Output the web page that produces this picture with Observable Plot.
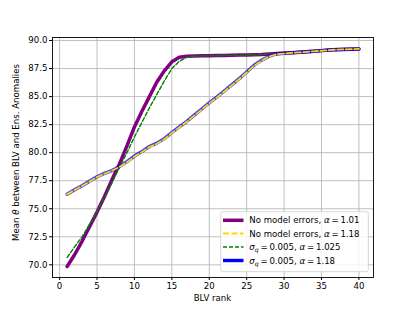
<!DOCTYPE html>
<html>
<head>
<meta charset="utf-8">
<script src="https://cdn.jsdelivr.net/npm/d3@7"></script>
<script src="https://cdn.jsdelivr.net/npm/@observablehq/plot@0.6"></script>
<style>
  html, body { margin: 0; padding: 0; background: #fff; }
  svg { font-family: "DejaVu Sans", sans-serif; }
</style>
</head>
<body>
<div id="chart"></div>
<script>
const ranks = [1,2,3,4,5,6,7,8,9,10,11,12,13,14,15,16,17,18,19,20,21,22,23,24,25,26,27,28,29,30,31,32,33,34,35,36,37,38,39,40];

const noErr101 = [69.85,70.9,72.1,73.4,74.7,76.1,77.6,79.0,80.6,82.3,83.7,85.0,86.3,87.3,88.1,88.5,88.6,88.62,88.64,88.65,88.66,88.67,88.68,88.7,88.71,88.73,88.75,88.8,88.85,88.88,88.92,88.96,89.0,89.05,89.1,89.15,89.18,89.21,89.23,89.25];

const noErr118 = [76.28,76.67,77.02,77.42,77.82,78.12,78.38,78.72,79.15,79.65,80.05,80.5,80.8,81.2,81.75,82.25,82.75,83.3,83.85,84.4,84.9,85.45,86.0,86.55,87.15,87.75,88.2,88.58,88.78,88.84,88.89,88.94,88.99,89.04,89.09,89.14,89.19,89.21,89.23,89.25];

const sq005a1025 = [70.65,71.6,72.5,73.6,74.8,76.0,77.3,78.7,80.0,81.4,82.7,84.0,85.2,86.4,87.5,88.15,88.5,88.6,88.63,88.65,88.66,88.67,88.68,88.7,88.71,88.73,88.75,88.8,88.85,88.88,88.92,88.96,89.0,89.05,89.1,89.15,89.18,89.21,89.23,89.25];

const sq005a118 = [76.3,76.7,77.05,77.45,77.85,78.15,78.4,78.75,79.2,79.7,80.1,80.55,80.85,81.25,81.8,82.3,82.8,83.35,83.9,84.45,84.95,85.5,86.05,86.6,87.2,87.8,88.25,88.6,88.8,88.85,88.9,88.95,89.0,89.05,89.1,89.15,89.2,89.22,89.24,89.25];

const xTicks = [0,5,10,15,20,25,30,35,40];
const yTicks = [70.0,72.5,75.0,77.5,80.0,82.5,85.0,87.5,90.0];

const series = [
  {key: "p", values: noErr101},
  {key: "g", values: sq005a1025},
  {key: "b", values: sq005a118},
  {key: "y", values: noErr118}
];
const rows = k => ranks.map((r, i) => ({x: r, y: series.find(s => s.key === k).values[i]}));

const fs = 8.6;
const chart = Plot.plot({
  width: 415,
  height: 311,
  marginLeft: 52,
  marginRight: 42,
  marginTop: 37,
  marginBottom: 34,
  style: {fontFamily: "DejaVu Sans, sans-serif", fontSize: fs + "px", color: "#000", background: "#fff"},
  x: {domain: [-0.95, 41.95], label: null},
  y: {domain: [68.87, 90.27], label: null},
  marks: [
    Plot.gridX(xTicks, {stroke: "#b0b0b0", strokeOpacity: 1, strokeWidth: 0.8}),
    Plot.gridY(yTicks, {stroke: "#b0b0b0", strokeOpacity: 1, strokeWidth: 0.8}),
    Plot.line(rows("p"), {x: "x", y: "y", stroke: "purple", strokeWidth: 3.5}),
    Plot.line(rows("g"), {x: "x", y: "y", stroke: "green", strokeWidth: 1.4, strokeDasharray: "4,2"}),
    Plot.line(rows("b"), {x: "x", y: "y", stroke: "blue", strokeWidth: 3.4, strokeOpacity: 0.75}),
    Plot.line(rows("y"), {x: "x", y: "y", stroke: "gold", strokeWidth: 1.8, strokeDasharray: "6,2.5"}),
    Plot.frame({stroke: "#000", strokeWidth: 0.9}),
    Plot.axisX(xTicks, {tickSize: 3, tickPadding: 2, tickFormat: d => String(d), fontSize: fs, label: null}),
    Plot.axisY(yTicks, {tickSize: 3, tickPadding: 2, tickFormat: d => d.toFixed(1), fontSize: fs, label: null})
  ]
});
document.getElementById("chart").appendChild(chart);

const svg = d3.select(chart);
// axis labels
svg.append("text").attr("x", 212.5).attr("y", 301).attr("text-anchor", "middle")
  .attr("font-size", fs).attr("fill", "#000").text("BLV rank");
const yl = svg.append("text").attr("transform", "translate(19,152.5) rotate(-90)")
  .attr("text-anchor", "middle").attr("font-size", fs).attr("fill", "#000");
yl.append("tspan").text("Mean ");
yl.append("tspan").attr("font-style", "italic").text("θ");
yl.append("tspan").text(" between BLV and Ens. Anomalies");

// legend
const lg = svg.append("g");
lg.append("rect").attr("x", 220.7).attr("y", 211.7).attr("width", 147.6).attr("height", 60)
  .attr("rx", 2).attr("fill", "#fff").attr("fill-opacity", 0.8).attr("stroke", "#ccc").attr("stroke-width", 0.8);
const legendItems = [
  {stroke: "purple", w: 3.5, dash: null, parts: [["No model errors, ", 0], ["α", "it"], ["=", "eq"], ["1.01", "num"]]},
  {stroke: "gold", w: 1.8, dash: "6,2.5", parts: [["No model errors, ", 0], ["α", "it"], ["=", "eq"], ["1.18", "num"]]},
  {stroke: "green", w: 1.4, dash: "4,2", parts: [["σ", "it"], ["q", "sub"], ["=", "equp"], ["0.005, ", "num"], ["α", "it"], ["=", "eq"], ["1.025", "num"]]},
  {stroke: "blue", w: 3.4, dash: null, parts: [["σ", "it"], ["q", "sub"], ["=", "equp"], ["0.005, ", "num"], ["α", "it"], ["=", "eq"], ["1.18", "num"]]}
];
const rowY = [220.3, 233.5, 247, 260.5];
legendItems.forEach((it, i) => {
  const y = rowY[i];
  const l = lg.append("line").attr("x1", 223).attr("x2", 243.5).attr("y1", y).attr("y2", y)
    .attr("stroke", it.stroke).attr("stroke-width", it.w);
  if (it.dash) l.attr("stroke-dasharray", it.dash);
  const t = lg.append("text").attr("x", 249.3).attr("y", y + 3).attr("font-size", fs)
    .attr("fill", "#000").attr("text-anchor", "start");
  it.parts.forEach(([s, st]) => {
    const sp = t.append("tspan").text(s);
    if (st === "it") sp.attr("font-style", "italic");
    if (st === "sub") sp.attr("font-style", "italic").attr("font-size", fs * 0.7).attr("dy", 2);
    if (st === "eq") sp.attr("dx", 1.8);
    if (st === "equp") sp.attr("dx", 1.8).attr("dy", -2);
    if (st === "num") sp.attr("dx", 1.8);
  });
});
</script>
</body>
</html>
